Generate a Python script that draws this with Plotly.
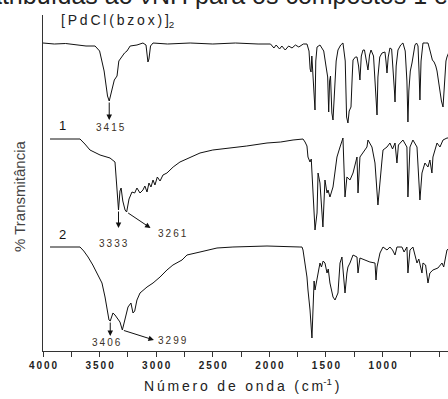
import plotly.graph_objects as go

# ---- data (wavenumber cm-1, transmittance in arbitrary offset units) ----
wn_pd = [4000, 3900, 3800, 3700, 3620, 3540, 3500, 3460, 3430, 3415, 3400, 3370, 3346, 3330,
         3280, 3258, 3230, 3170, 3117, 3090, 3073, 3064, 3050, 3028, 2900, 2700, 2500, 2300,
         2100, 1990, 1960, 1940, 1910, 1890, 1860, 1830, 1800, 1770, 1740, 1700, 1668, 1650,
         1640, 1632, 1625, 1610, 1597, 1590, 1579, 1553, 1520, 1500, 1485, 1476, 1468, 1460,
         1448, 1438, 1425, 1410, 1394, 1370, 1350, 1330, 1318, 1306, 1295, 1279, 1268, 1261,
         1240, 1226, 1212, 1200, 1188, 1173, 1160, 1145, 1129, 1115, 1102, 1080, 1060, 1049,
         1041, 1025, 1005, 990, 979, 970, 961, 950, 935, 920, 908, 895, 890, 880, 864, 840,
         820, 800, 785, 776, 768, 755, 740, 725, 714, 700, 687, 678, 670, 660, 643, 620, 599,
         580, 560, 545, 530, 519, 505, 493, 480, 466, 455, 440, 431, 410]
t_pd = [308, 307, 307.5, 306, 305, 305, 300, 280, 255, 250, 258, 271, 275, 290,
        298, 300, 305, 306, 308, 306, 289, 292, 305, 308, 307, 308, 307, 308,
        307, 307, 303, 306, 302, 305, 301, 305, 303, 306, 304, 307, 307, 300,
        282, 279, 295, 270, 241, 290, 304, 306, 300, 285, 274, 239, 270, 275,
        238, 231, 260, 290, 301, 306, 308, 290, 234, 228, 240, 244, 275, 291,
        294, 294, 285, 271, 295, 301, 301, 290, 281, 296, 301, 295, 260, 236,
        274, 294, 298, 299, 299, 290, 278, 294, 303, 302, 285, 260, 249, 285, 301, 306,
        308, 300, 270, 229, 260, 280, 288, 300, 306, 308, 305, 280, 251, 290, 308, 308, 308,
        300, 291, 289, 285, 280, 268, 260, 250, 244, 270, 290, 294, 300]

wn_1 = [3938, 3800, 3673, 3630, 3585, 3496, 3408, 3364, 3346, 3333, 3320, 3310, 3295, 3275,
        3261, 3240, 3214, 3190, 3170, 3143, 3117, 3100, 3081, 3064, 3046, 3028, 3011, 2990,
        2966, 2940, 2905, 2850, 2790, 2700, 2613, 2500, 2322, 2200, 2021, 1900, 1791, 1703,
        1685, 1668, 1659, 1641, 1630, 1615, 1597, 1579, 1570, 1553, 1535, 1527, 1509, 1491,
        1482, 1465, 1438, 1403, 1376, 1359, 1350, 1332, 1315, 1288, 1261, 1226, 1217, 1200,
        1173, 1138, 1129, 1094, 1067, 1049, 1041, 1005, 996, 961, 935, 912, 890, 873, 860,
        820, 785, 776, 758, 732, 696, 670, 652, 626, 599, 582, 564, 555, 519, 493, 466, 431, 410]
t_1 = [212, 212, 212, 207, 201, 196, 193, 189, 160, 141, 160, 163, 150, 141,
       139, 152, 159, 158, 163, 158, 161, 165, 159, 168, 164, 171, 166, 174,
       170, 176, 178, 184, 189, 194, 198, 201, 203, 205, 208, 209, 211, 212,
       209, 205, 194, 189, 192, 154, 121, 138, 178, 168, 128, 124, 171, 158,
       161, 154, 164, 194, 204, 211, 213, 154, 174, 171, 178, 194, 158, 194,
       198, 204, 211, 204, 188, 154, 146, 191, 201, 204, 208, 202, 208, 188, 206,
       211, 204, 154, 204, 211, 204, 151, 178, 188, 184, 191, 178, 194, 208, 204, 211, 213, 213]

wn_2 = [3938, 3800, 3673, 3640, 3602, 3560, 3523, 3479, 3452, 3435, 3417, 3406, 3390, 3382,
        3364, 3346, 3337, 3320, 3299, 3276, 3249, 3223, 3205, 3190, 3170, 3143, 3081, 3028,
        2966, 2905, 2852, 2772, 2728, 2613, 2463, 2322, 2021, 1730, 1712, 1703, 1685, 1668,
        1659, 1641, 1624, 1615, 1605, 1597, 1579, 1553, 1540, 1525, 1509, 1491, 1480, 1465,
        1438, 1420, 1394, 1376, 1359, 1332, 1315, 1306, 1288, 1261, 1226, 1217, 1200, 1156,
        1112, 1067, 1058, 1049, 1023, 996, 961, 935, 912, 890, 873, 829, 810, 785, 776, 758,
        732, 696, 680, 652, 643, 620, 599, 582, 555, 511, 475, 460, 431, 410]
t_2 = [104, 104, 104, 100, 94, 86, 78, 68, 54, 41, 31, 30, 36, 38,
       36, 33, 31, 29, 21, 31, 44, 48, 38, 40, 51, 58, 64, 68,
       74, 81, 86, 91, 96, 99, 103, 104, 105, 104, 104, 101, 88, 74,
       61, 41, 13, 41, 70, 61, 74, 88, 84, 90, 88, 78, 82, 68,
       54, 51, 58, 88, 94, 58, 78, 84, 88, 96, 94, 78, 93, 91,
       89, 88, 71, 84, 98, 104, 101, 104, 101, 96, 104, 104, 99, 104, 78, 101,
       104, 88, 92, 78, 88, 86, 68, 78, 81, 83, 88, 84, 101, 103]

x_ticks = [4000, 3750, 3500, 3250, 3000, 2750, 2500, 2250, 2000, 1750, 1500, 1250, 1000, 750, 500]
x_tick_labels = ["4000", "", "3500", "", "3000", "", "2500", "", "2000", "", "1500", "", "1000", "", "500"]

series_names = ["[PdCl(bzox)]2", "1", "2"]

THIN = "\u2009"
FONT = "Liberation Sans, Arial"


def spaced(s):
    return THIN.join(list(s))


fig = go.Figure()
for wn, t, nm in [(wn_pd, t_pd, series_names[0]), (wn_1, t_1, series_names[1]), (wn_2, t_2, series_names[2])]:
    fig.add_trace(go.Scatter(x=wn, y=t, mode="lines", name=nm,
                             line=dict(color="#111111", width=1), showlegend=False))

ann_font = dict(family=FONT, size=10, color="#3a3026")
annotations = []

# peak labels and arrows: (peak wn, peak value, head wn, head value, label wn, label value, text)
peaks = [
    (3415, 250, 3415, 231, 3400, 224, "3415"),
    (3333, 141, 3333, 123, 3380, 108, "3333"),
    (3261, 139, 3050, 123, 2860, 118, "3261"),
    (3406, 30, 3406, 15, 3443, 9, "3406"),
    (3299, 21, 3020, 11, 2855, 11, "3299"),
]
for pw, pv, hw, hv, lw, lv, txt in peaks:
    annotations.append(dict(x=hw, y=hv, ax=pw, ay=pv, xref="x", yref="y", axref="x", ayref="y",
                            text="", showarrow=True, arrowhead=2, arrowsize=1.1, arrowwidth=1,
                            arrowcolor="#111111", standoff=0, startstandoff=0))
    annotations.append(dict(x=lw, y=lv, xref="x", yref="y", text=spaced(txt), showarrow=False,
                            font=ann_font))

annotations.append(dict(x=3832, y=226, xref="x", yref="y", text="1", showarrow=False,
                        font=dict(family=FONT, size=13, color="#111")))
annotations.append(dict(x=3832, y=117, xref="x", yref="y", text="2", showarrow=False,
                        font=dict(family=FONT, size=13, color="#111")))
annotations.append(dict(x=3860, y=330, xref="x", yref="y",
                        text=spaced("[PdCl(bzox)]") + "<sub>2</sub>",
                        xanchor="left", showarrow=False,
                        font=dict(family=FONT, size=14, color="#222")))
# cropped caption line at the very top
annotations.append(dict(x=-0.141, y=1.0, xref="paper", yref="paper", xanchor="left", yanchor="middle",
                        yshift=20, text="atribuídas ao νNH para os compostos 1 e 2", showarrow=False,
                        font=dict(family=FONT, size=25, color="#222")))
# axis titles
annotations.append(dict(x=0.5, y=0, xref="paper", yref="paper", yanchor="middle",
                        yshift=-34, xshift=-4, text=spaced("Número de onda (cm") + "<sup>-1</sup>" + THIN + ")",
                        showarrow=False, font=dict(family=FONT, size=14, color="#222")))
annotations.append(dict(x=0, y=0.5, xref="paper", yref="paper", xanchor="center", yanchor="middle",
                        xshift=-24, yshift=-13, textangle=-90, text="% Transmitância", showarrow=False,
                        font=dict(family=FONT, size=15, color="#444")))

fig.update_layout(
    width=448, height=399,
    margin=dict(l=43, r=0, t=15, b=48, autoexpand=False),
    plot_bgcolor="white", paper_bgcolor="white",
    annotations=annotations,
    xaxis=dict(range=[4000, 422], tickmode="array", tickvals=x_ticks,
               ticktext=[spaced(s) for s in x_tick_labels], automargin=False,
               ticks="outside", ticklen=5, tickwidth=1, tickcolor="#333",
               showline=True, linecolor="#333", linewidth=1.3, showgrid=False, zeroline=False,
               tickfont=dict(family=FONT, size=10, color="#222", weight="bold")),
    yaxis=dict(range=[0, 336], showticklabels=False, ticks="", showline=True, linecolor="#333",
               linewidth=1.3, showgrid=False, zeroline=False, automargin=False),
)

fig.write_html("out.html", config={"displayModeBar": False},
               post_script="document.body.style.margin='0';document.body.style.overflow='hidden';")
